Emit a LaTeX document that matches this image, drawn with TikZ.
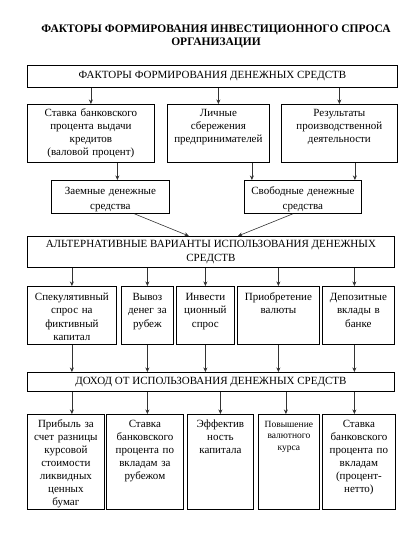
\documentclass[tikz,border=0pt]{standalone}
\usepackage{fontspec}
\setmainfont{Liberation Serif}
\usetikzlibrary{calc,positioning,arrows.meta}

\begin{document}
\begin{tikzpicture}[
    x=1pt, y=-1pt,
    font=\fontsize{11}{13}\selectfont,
    title/.style={align=center, font=\fontsize{11.5}{13}\selectfont\bfseries},
    block/.style={draw=black, line width=0.8pt, align=center, inner xsep=1.5pt, inner ysep=3pt, anchor=north west},
    header/.style={block, inner ysep=0pt},
    cell/.style={block, text height=9pt},
    rowtwo/.style={cell, text depth=43pt},
    pair/.style={cell, text height=11pt, text depth=16pt, font=\fontsize{11}{15}\selectfont},
    rowthree/.style={cell, text height=11pt, text depth=41pt, font=\fontsize{11}{13.3}\selectfont},
    rowfour/.style={cell, text height=10pt, text depth=79pt},
    flow/.style={-{Stealth[length=4.5pt,width=4pt]}, draw=black!80, semithick}
]
\useasboundingbox (0,0) rectangle (409,555);

\node[title] (Title) at (216,36) {ФАКТОРЫ ФОРМИРОВАНИЯ ИНВЕСТИЦИОННОГО СПРОСА\\ОРГАНИЗАЦИИ};

\node[header, minimum width=370pt, minimum height=22pt] (Factors) at (27,65) {ФАКТОРЫ ФОРМИРОВАНИЯ ДЕНЕЖНЫХ СРЕДСТВ};

\node[rowtwo, text width=124pt] (BankRate) at (27,104) {Ставка банковского\\процента выдачи\\кредитов\\(валовой процент)};
\node[rowtwo, text width=99pt] (Savings) at (167,104) {Личные\\сбережения\\предпринимателей};
\node[rowtwo, text width=113pt] (Results) at (281,104) {Результаты\\производственной\\деятельности};

\node[pair, text width=115pt] (Borrowed) at (51,180) {Заемные денежные\\средства};
\node[pair, text width=114pt] (Free) at (244,180) {Свободные денежные\\средства};

\node[header, minimum width=367pt, minimum height=31pt, font=\fontsize{11}{14}\selectfont] (Alternatives) at (27,236) {АЛЬТЕРНАТИВНЫЕ ВАРИАНТЫ ИСПОЛЬЗОВАНИЯ ДЕНЕЖНЫХ\\СРЕДСТВ};

\node[rowthree, text width=86pt] (Spec) at (27,286) {Спекулятивный\\спрос на\\фиктивный\\капитал};
\node[rowthree, text width=49pt] (Export) at (121,286) {Вывоз\\денег за\\рубеж};
\node[rowthree, text width=55pt] (Invest) at (176,286) {Инвести\\ционный\\спрос};
\node[rowthree, text width=79pt] (Currency) at (237,286) {Приобретение\\валюты};
\node[rowthree, text width=69pt] (Deposit) at (322,286) {Депозитные\\вклады в\\банке};

\node[header, minimum width=367pt, minimum height=19pt] (Income) at (27,372) {ДОХОД ОТ ИСПОЛЬЗОВАНИЯ ДЕНЕЖНЫХ СРЕДСТВ};

\node[rowfour, text width=74pt] (Profit) at (27,414) {Прибыль за\\счет разницы\\курсовой\\стоимости\\ликвидных\\ценных\\бумаг};
\node[rowfour, text width=74pt] (ForeignRate) at (106,414) {Ставка\\банковского\\процента по\\вкладам за\\рубежом};
\node[rowfour, text width=63pt] (Efficiency) at (187,414) {Эффектив\\ность\\капитала};
\node[rowfour, text width=58pt, font=\fontsize{9.5}{11.5}\selectfont] (Growth) at (258,414) {Повышение\\валютного\\курса};
\node[rowfour, text width=70pt] (NetRate) at (322,414) {Ставка\\банковского\\процента по\\вкладам\\(процент-\\нетто)};

% sources of money
\draw[flow] (BankRate.north |- Factors.south) -- (BankRate.north);
\draw[flow] (Savings.north |- Factors.south) -- (Savings.north);
\draw[flow] (Results.north |- Factors.south) -- (Results.north);
\draw[flow] ([xshift=7pt]Borrowed.north |- BankRate.south) -- ([xshift=7pt]Borrowed.north);
\draw[flow] ([xshift=-51pt]Free.north |- Savings.south) -- ([xshift=-51pt]Free.north);
\draw[flow] ([xshift=52pt]Free.north |- Results.south) -- ([xshift=52pt]Free.north);
\draw[flow] ([xshift=24pt]Borrowed.south) -- ([xshift=-22pt]Alternatives.north);
\draw[flow] ([xshift=-10pt]Free.south) -- ([xshift=27pt]Alternatives.north);

% alternatives
\draw[flow] (Spec.north |- Alternatives.south) -- (Spec.north);
\draw[flow] (Export.north |- Alternatives.south) -- (Export.north);
\draw[flow] (Invest.north |- Alternatives.south) -- (Invest.north);
\draw[flow] (Currency.north |- Alternatives.south) -- (Currency.north);
\draw[flow] ([xshift=-4pt]Deposit.north |- Alternatives.south) -- ([xshift=-4pt]Deposit.north);

% income
\draw[flow] (Spec.south) -- (Spec.south |- Income.north);
\draw[flow] (Export.south) -- (Export.south |- Income.north);
\draw[flow] (Invest.south) -- (Invest.south |- Income.north);
\draw[flow] (Currency.south) -- (Currency.south |- Income.north);
\draw[flow] ([xshift=-4pt]Deposit.south) -- ([xshift=-4pt]Deposit.south |- Income.north);

\draw[flow] (Spec.south |- Income.south) -- (Spec.south |- Profit.north);
\draw[flow] (Export.south |- Income.south) -- (Export.south |- ForeignRate.north);
\draw[flow] (Efficiency.north |- Income.south) -- (Efficiency.north);
\draw[flow] ([xshift=-3pt]Growth.north |- Income.south) -- ([xshift=-3pt]Growth.north);
\draw[flow] ([xshift=-4pt]Deposit.south |- Income.south) -- ([xshift=-4pt]Deposit.south |- NetRate.north);
\end{tikzpicture}
\end{document}
